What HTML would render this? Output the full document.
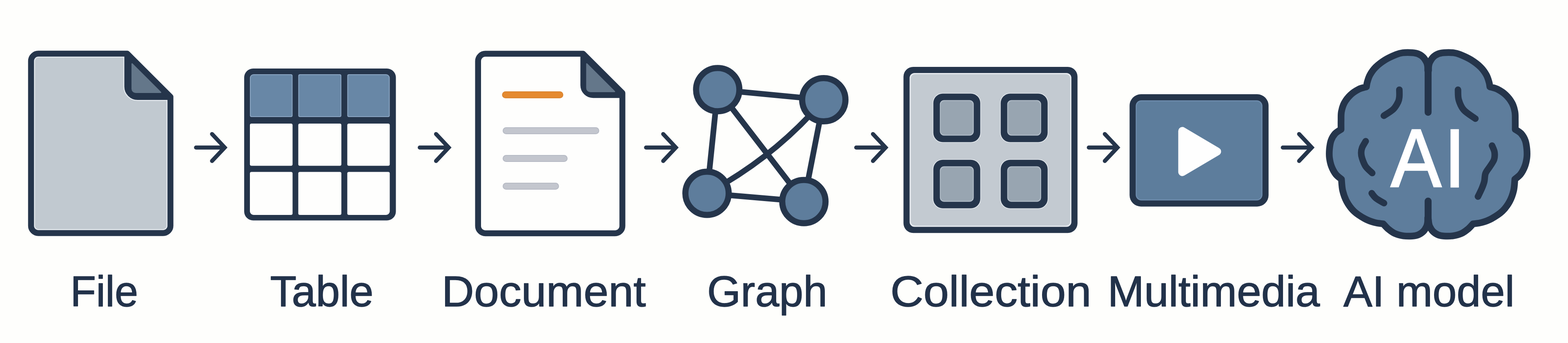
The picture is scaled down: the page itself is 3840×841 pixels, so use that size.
<!DOCTYPE html>
<html lang="en">
<head>
<meta charset="utf-8">
<title>File, Table, Document, Graph, Collection, Multimedia, AI model</title>
<style>
html,body{margin:0;padding:0;background:#FEFEFC;}
body{width:3840px;height:841px;overflow:hidden;}
svg{display:block;}
text{font-family:"Liberation Sans",sans-serif;}
</style>
</head>
<body>
<svg width="3840" height="841" viewBox="0 0 3840 841">
<rect width="3840" height="841" fill="#FEFEFC"/>
<g id="file">
<clipPath id="f1c"><path d="M94,131.6 H311.6 L417.4,237.3 V553.5 A18,18 0 0 1 399.4,571.5 H94 A18,18 0 0 1 76,553.5 V149.6 A18,18 0 0 1 94,131.6 Z"/></clipPath><path d="M94,131.6 H311.6 L417.4,237.3 V553.5 A18,18 0 0 1 399.4,571.5 H94 A18,18 0 0 1 76,553.5 V149.6 A18,18 0 0 1 94,131.6 Z" fill="#C1C9D0"/><path d="M94,131.6 H311.6 L417.4,237.3 V553.5 A18,18 0 0 1 399.4,571.5 H94 A18,18 0 0 1 76,553.5 V149.6 A18,18 0 0 1 94,131.6 Z" fill="none" stroke="#E4E9EE" stroke-width="19.5" clip-path="url(#f1c)"/><path d="M313,131.6 V212.5 A24,24 0 0 0 337,236.5 H417.4" fill="none" stroke="#E4E9EE" stroke-width="22" clip-path="url(#f1c)"/><path d="M313,131.6 L417.4,237.3 L417.4,236.5 H337 A24,24 0 0 1 313,212.5 Z" fill="#25354B"/><path d="M313,131.6 V212.5 A24,24 0 0 0 337,236.5 H417.4" fill="none" stroke="#25354B" stroke-width="17"/><path d="M94,131.6 H311.6 L417.4,237.3 V553.5 A18,18 0 0 1 399.4,571.5 H94 A18,18 0 0 1 76,553.5 V149.6 A18,18 0 0 1 94,131.6 Z" fill="none" stroke="#25354B" stroke-width="14.5" stroke-linejoin="round"/><path d="M323.5,156.5 V217.5 A9,9 0 0 0 332.5,226.5 H393.5 Z" fill="#64778A" stroke="#64778A" stroke-width="3" stroke-linejoin="round"/>
</g>
<g id="table">
<rect x="598" y="168" width="371.5" height="372.5" rx="22" fill="#25354B"/>
<path d="M621,182 H712.5 A4,4 0 0 1 716.5,186 V283 A4,4 0 0 1 712.5,287 H616 A4,4 0 0 1 612,283 V191 A9,9 0 0 1 621,182 Z" fill="#8CA6C3"/>
<path d="M621,184 H711.5 A3,3 0 0 1 714.5,187 V282 A3,3 0 0 1 711.5,285 H617 A3,3 0 0 1 614,282 V191 A7,7 0 0 1 621,184 Z" fill="#6887A6"/>
<path d="M734.5,182 H832 A4,4 0 0 1 836,186 V283 A4,4 0 0 1 832,287 H734.5 A4,4 0 0 1 730.5,283 V186 A4,4 0 0 1 734.5,182 Z" fill="#8CA6C3"/>
<path d="M735.5,184 H831 A3,3 0 0 1 834,187 V282 A3,3 0 0 1 831,285 H735.5 A3,3 0 0 1 732.5,282 V187 A3,3 0 0 1 735.5,184 Z" fill="#6887A6"/>
<path d="M854.5,182 H945.5 A9,9 0 0 1 954.5,191 V283 A4,4 0 0 1 950.5,287 H854.5 A4,4 0 0 1 850.5,283 V186 A4,4 0 0 1 854.5,182 Z" fill="#8CA6C3"/>
<path d="M855.5,184 H945.5 A7,7 0 0 1 952.5,191 V282 A3,3 0 0 1 949.5,285 H855.5 A3,3 0 0 1 852.5,282 V187 A3,3 0 0 1 855.5,184 Z" fill="#6887A6"/>
<path d="M616,303 H712.5 A4,4 0 0 1 716.5,307 V402.5 A4,4 0 0 1 712.5,406.5 H616 A4,4 0 0 1 612,402.5 V307 A4,4 0 0 1 616,303 Z" fill="#FEFEFD"/>
<path d="M734.5,303 H832 A4,4 0 0 1 836,307 V402.5 A4,4 0 0 1 832,406.5 H734.5 A4,4 0 0 1 730.5,402.5 V307 A4,4 0 0 1 734.5,303 Z" fill="#FEFEFD"/>
<path d="M854.5,303 H950.5 A4,4 0 0 1 954.5,307 V402.5 A4,4 0 0 1 950.5,406.5 H854.5 A4,4 0 0 1 850.5,402.5 V307 A4,4 0 0 1 854.5,303 Z" fill="#FEFEFD"/>
<path d="M616,421.5 H712.5 A4,4 0 0 1 716.5,425.5 V523 A4,4 0 0 1 712.5,527 H621 A9,9 0 0 1 612,518 V425.5 A4,4 0 0 1 616,421.5 Z" fill="#FEFEFD"/>
<path d="M734.5,421.5 H832 A4,4 0 0 1 836,425.5 V523 A4,4 0 0 1 832,527 H734.5 A4,4 0 0 1 730.5,523 V425.5 A4,4 0 0 1 734.5,421.5 Z" fill="#FEFEFD"/>
<path d="M854.5,421.5 H950.5 A4,4 0 0 1 954.5,425.5 V518 A9,9 0 0 1 945.5,527 H854.5 A4,4 0 0 1 850.5,523 V425.5 A4,4 0 0 1 854.5,421.5 Z" fill="#FEFEFD"/>
</g>
<g id="document">
<clipPath id="f2c"><path d="M1188.8,131.8 H1428 L1524.2,228 V554 A18,18 0 0 1 1506.2,572 H1188.8 A18,18 0 0 1 1170.8,554 V149.8 A18,18 0 0 1 1188.8,131.8 Z"/></clipPath><path d="M1188.8,131.8 H1428 L1524.2,228 V554 A18,18 0 0 1 1506.2,572 H1188.8 A18,18 0 0 1 1170.8,554 V149.8 A18,18 0 0 1 1188.8,131.8 Z" fill="#FEFEFD"/><path d="M1188.8,131.8 H1428 L1524.2,228 V554 A18,18 0 0 1 1506.2,572 H1188.8 A18,18 0 0 1 1170.8,554 V149.8 A18,18 0 0 1 1188.8,131.8 Z" fill="none" stroke="#FFFFFF" stroke-width="19.5" clip-path="url(#f2c)"/><path d="M1428.6,131.8 V209 A24,24 0 0 0 1452.6,233 H1524.2" fill="none" stroke="#FFFFFF" stroke-width="19.5" clip-path="url(#f2c)"/><path d="M1428.6,131.8 L1524.2,228 L1524.2,233 H1452.6 A24,24 0 0 1 1428.6,209 Z" fill="#25354B"/><path d="M1428.6,131.8 V209 A24,24 0 0 0 1452.6,233 H1524.2" fill="none" stroke="#25354B" stroke-width="14.5"/><path d="M1188.8,131.8 H1428 L1524.2,228 V554 A18,18 0 0 1 1506.2,572 H1188.8 A18,18 0 0 1 1170.8,554 V149.8 A18,18 0 0 1 1188.8,131.8 Z" fill="none" stroke="#25354B" stroke-width="14.5" stroke-linejoin="round"/><path d="M1437,156.5 V215.5 A9,9 0 0 0 1446,224.5 H1505 Z" fill="#64778A" stroke="#64778A" stroke-width="3" stroke-linejoin="round"/>
<path d="M1238,232.5 H1371" stroke="#D98430" stroke-width="17" stroke-linecap="round" fill="none"/>
<path d="M1238,232.5 H1371" stroke="#E58A30" stroke-width="13" stroke-linecap="round" fill="none"/>
<path d="M1239.5,320.5 H1459 M1239.5,388.5 H1381.5 M1239.5,456.5 H1360.5" stroke="#B6BAC4" stroke-width="17" stroke-linecap="round" fill="none"/>
<path d="M1239.5,320.5 H1459 M1239.5,388.5 H1381.5 M1239.5,456.5 H1360.5" stroke="#C3C6CE" stroke-width="13" stroke-linecap="round" fill="none"/>
</g>
<g id="graph">
<path d="M1757.7,219.8 L2017.5,244.6 M1757.7,219.8 L1731.5,474 M1757.7,219.8 L1968.7,494.3 M2017.5,244.6 L1968.7,494.3 M1731.5,474 L1968.7,494.3 M2017.5,244.6 Q1898,385 1731.5,474" stroke="#25354B" stroke-width="14" fill="none"/>
<circle cx="1757.7" cy="219.8" r="53" fill="#5E7D9C" stroke="#25354B" stroke-width="15"/>
<circle cx="2017.5" cy="244.6" r="53" fill="#5E7D9C" stroke="#25354B" stroke-width="15"/>
<circle cx="1731.5" cy="474" r="53" fill="#5E7D9C" stroke="#25354B" stroke-width="15"/>
<circle cx="1968.7" cy="494.3" r="53" fill="#5E7D9C" stroke="#25354B" stroke-width="15"/>
</g>
<g id="collection">
<rect x="2212.6" y="164" width="426.2" height="407.3" rx="24" fill="#25354B"/>
<rect x="2227.6" y="179" width="396.2" height="377.3" rx="12" fill="#E6EAEF"/>
<rect x="2230.6" y="182" width="390.2" height="371.3" rx="10" fill="#C3CAD1"/>
<rect x="2284.2" y="228" width="118" height="122" rx="24" fill="#E4E9EE"/>
<rect x="2285.7" y="229.5" width="115" height="119" rx="23" fill="#25354B"/>
<rect x="2301.7" y="245.5" width="83" height="87" rx="10" fill="#B4BFCA"/>
<rect x="2303.7" y="247.5" width="79" height="83" rx="9" fill="#98A5B1"/>
<rect x="2284.2" y="390.3" width="118" height="122" rx="24" fill="#E4E9EE"/>
<rect x="2285.7" y="391.8" width="115" height="119" rx="23" fill="#25354B"/>
<rect x="2301.7" y="407.8" width="83" height="87" rx="10" fill="#B4BFCA"/>
<rect x="2303.7" y="409.8" width="79" height="83" rx="9" fill="#98A5B1"/>
<rect x="2449.2" y="228" width="118" height="122" rx="24" fill="#E4E9EE"/>
<rect x="2450.7" y="229.5" width="115" height="119" rx="23" fill="#25354B"/>
<rect x="2466.7" y="245.5" width="83" height="87" rx="10" fill="#B4BFCA"/>
<rect x="2468.7" y="247.5" width="79" height="83" rx="9" fill="#98A5B1"/>
<rect x="2449.2" y="390.3" width="118" height="122" rx="24" fill="#E4E9EE"/>
<rect x="2450.7" y="391.8" width="115" height="119" rx="23" fill="#25354B"/>
<rect x="2466.7" y="407.8" width="83" height="87" rx="10" fill="#B4BFCA"/>
<rect x="2468.7" y="409.8" width="79" height="83" rx="9" fill="#98A5B1"/>
</g>
<g id="multimedia">
<rect x="2766.3" y="231" width="340.4" height="275.5" rx="28" fill="#25354B"/>
<rect x="2781.3" y="246" width="310.4" height="245.5" rx="14" fill="#6E8DAE"/>
<rect x="2783.8" y="248.5" width="305.4" height="240.5" rx="12" fill="#5D7D9C"/>
<path d="M2895.5,321.3 L2980.5,371.5 L2895.5,421.7 Z" fill="#FEFEFE" stroke="#FEFEFE" stroke-width="20" stroke-linejoin="round"/>
</g>
<g id="brain">
<path d="M3496.5055,172.9955 C3496.5,171.2 3496.7,165.5 3496.2,162.1 C3495.7,158.7 3495.4,156.2 3493.6,152.6 C3491.8,149 3488.9,143.7 3485.5,140.3 C3482.1,136.9 3477.6,134 3473.1,132.1 C3468.7,130.3 3465,129.7 3458.7,129.2 C3452.4,128.8 3441.9,128.7 3435.3,129.4 C3428.8,130.2 3426.6,130.8 3419.4,133.7 C3412.3,136.6 3401,141.4 3392.6,146.6 C3384.1,151.9 3375,158.8 3368.7,165 C3362.4,171.3 3358.2,177.8 3354.8,183.9 C3351.4,190.1 3349.7,197 3348.3,201.8 C3346.9,206.6 3346.7,211 3346.3,212.8 C3343.3,213.8 3334.4,215.5 3327.9,218.7 C3321.5,222 3313.5,226.9 3307.6,232.5 C3301.6,238.1 3295.9,245.5 3292.1,252.4 C3288.4,259.2 3286.5,266.4 3285.2,273.4 C3283.8,280.4 3284.3,287 3284.2,294.3 C3284,301.6 3284.2,313.4 3284.2,317.2 C3281.8,318.9 3273.7,323.1 3269.7,327.6 C3265.6,332.2 3262,338.2 3259.7,344.5 C3257.4,350.9 3256.5,358.6 3255.8,365.6 C3255.2,372.7 3255,379.8 3255.8,386.8 C3256.7,393.9 3258.2,401.2 3260.8,408 C3263.4,414.8 3267.3,422.1 3271.4,427.4 C3275.4,432.6 3282.9,437.5 3285.2,439.5 C3285.7,444.2 3286,458.3 3288.2,467.4 C3290.3,476.5 3293.5,485.8 3298.1,494.2 C3302.7,502.7 3308.7,511.1 3316,518.1 C3323.3,525 3333.6,531.4 3341.9,536 C3350.1,540.5 3358.1,543.3 3365.7,545.4 C3373.4,547.6 3384,548.3 3387.6,548.9 C3389.6,551 3394.9,557.5 3399.5,561.3 C3404.2,565.2 3409.2,569.5 3415.5,572.3 C3421.8,575.1 3430.1,577.2 3437.3,578.3 C3444.5,579.3 3452.7,579.1 3458.7,578.8 C3464.7,578.4 3468.7,577.7 3473.1,575.9 C3477.6,574 3482.1,571.1 3485.5,567.7 C3488.9,564.3 3491.8,559.2 3493.6,555.4 C3495.4,551.6 3495.7,548.5 3496.2,544.9 C3496.7,541.4 3496.5,535.8 3496.5,534 C3498.5,535.8 3498.3,541.4 3498.8,544.9 C3499.3,548.5 3499.6,551.6 3501.4,555.4 C3503.2,559.2 3506.1,564.3 3509.5,567.7 C3512.9,571.1 3517.4,574 3521.9,575.9 C3526.3,577.7 3530.3,578.4 3536.3,578.8 C3542.3,579.1 3550.5,579.3 3557.7,578.3 C3564.9,577.2 3573.2,575.1 3579.5,572.3 C3585.8,569.5 3590.8,565.2 3595.5,561.3 C3600.1,557.5 3605.4,551 3607.4,548.9 C3611,548.3 3621.6,547.6 3629.3,545.4 C3636.9,543.3 3644.9,540.5 3653.1,536 C3661.4,531.4 3671.7,525 3679,518.1 C3686.3,511.1 3692.3,502.7 3696.9,494.2 C3701.5,485.8 3704.7,476.5 3706.8,467.4 C3709,458.3 3709.3,444.2 3709.8,439.5 C3712.1,437.5 3719.6,432.6 3723.6,427.4 C3727.7,422.1 3731.6,414.8 3734.2,408 C3736.8,401.2 3738.3,393.9 3739.2,386.8 C3740,379.8 3739.8,372.7 3739.2,365.6 C3738.5,358.6 3737.6,350.9 3735.3,344.5 C3733,338.2 3729.4,332.2 3725.3,327.6 C3721.3,323.1 3713.2,318.9 3710.8,317.2 C3710.8,313.4 3711,301.6 3710.8,294.3 C3710.7,287 3711.2,280.4 3709.8,273.4 C3708.5,266.4 3706.6,259.2 3702.9,252.4 C3699.1,245.5 3693.4,238.1 3687.4,232.5 C3681.5,226.9 3673.5,222 3667.1,218.7 C3660.6,215.5 3651.7,213.8 3648.7,212.8 C3648.3,211 3648.1,206.6 3646.7,201.8 C3645.3,197 3643.6,190.1 3640.2,183.9 C3636.8,177.8 3632.6,171.3 3626.3,165 C3620,158.8 3610.9,151.9 3602.4,146.6 C3594,141.4 3582.7,136.6 3575.6,133.7 C3568.4,130.8 3566.2,130.2 3559.7,129.4 C3553.1,128.7 3542.6,128.8 3536.3,129.2 C3530,129.7 3526.3,130.3 3521.9,132.1 C3517.4,134 3512.9,136.9 3509.5,140.3 C3506.1,143.7 3503.2,149 3501.4,152.6 C3499.6,156.2 3499.3,158.7 3498.8,162.1 C3498.3,165.5 3498.5,171.2 3498.5,173 Z" fill="#5E7D9C" stroke="#25354B" stroke-width="16.5" stroke-linejoin="round"/>
<path d="M3497.4,160 V275.5 M3497.4,493 V548" fill="none" stroke="#25354B" stroke-width="17" stroke-linecap="round"/>
<path d=" M3427,220 C3427,222.8 3427.5,232 3427,237 C3426.5,242 3426.5,244.8 3424,250 C3421.5,255.2 3417.8,262.4 3412,268 C3406.2,273.6 3392.8,281.2 3389,283.8 M3344.6,346.2 C3343.1,348.9 3337.5,357.4 3335.7,362.2 C3333.8,367 3333.5,370.7 3333.5,375 C3333.5,379.3 3333.8,382.4 3335.7,388 C3337.5,393.6 3340.4,402.2 3344.6,408.3 C3348.8,414.4 3357.9,421.6 3360.6,424.3 M3359.3,473.8 C3361.1,475.9 3365,482.2 3370,486.2 C3375,490.2 3386.2,496 3389.4,498 M3570.6,220 C3570.9,224.1 3570,236.5 3572.4,244.8 C3574.8,253.1 3578,261.9 3584.8,269.6 C3591.6,277.3 3608.5,287.3 3613.2,290.9 M3654,357 C3655,359.7 3659.2,367.3 3660,373 C3660.8,378.7 3660.8,385.2 3659,391 C3657.2,396.8 3652.5,402.3 3649,408 C3645.5,413.7 3640.3,418.8 3638,425 C3635.7,431.2 3636.5,438.8 3635,445 C3633.5,451.2 3631.6,455.8 3629,462 C3626.4,468.2 3621.1,478.7 3619.5,482" fill="none" stroke="#25354B" stroke-width="16" stroke-linecap="round" stroke-linejoin="round"/>
<text transform="translate(3406,457.5) scale(0.92,1)" x="0 142" y="0" font-size="202" fill="#FFFFFF" stroke="#FFFFFF" stroke-width="3.4">AI</text>
</g>
<g id="arrows">
<path d="M480.1,361.7 H548.3 M519.3,328.7 L550.3,361.7 L519.3,394.7" fill="none" stroke="#25354B" stroke-width="10" stroke-linecap="round" stroke-linejoin="miter"/>
<path d="M1028,361.7 H1096.9 M1067.9,328.7 L1098.9,361.7 L1067.9,394.7" fill="none" stroke="#25354B" stroke-width="10" stroke-linecap="round" stroke-linejoin="miter"/>
<path d="M1582.2,361.7 H1653.2 M1624.2,328.7 L1655.2,361.7 L1624.2,394.7" fill="none" stroke="#25354B" stroke-width="10" stroke-linecap="round" stroke-linejoin="miter"/>
<path d="M2096.9,361.7 H2166.9 M2137.9,328.7 L2168.9,361.7 L2137.9,394.7" fill="none" stroke="#25354B" stroke-width="10" stroke-linecap="round" stroke-linejoin="miter"/>
<path d="M2666.5,361.7 H2734.7 M2705.7,328.7 L2736.7,361.7 L2705.7,394.7" fill="none" stroke="#25354B" stroke-width="10" stroke-linecap="round" stroke-linejoin="miter"/>
<path d="M3141.6,361.7 H3210.5 M3181.5,328.7 L3212.5,361.7 L3181.5,394.7" fill="none" stroke="#25354B" stroke-width="10" stroke-linecap="round" stroke-linejoin="miter"/>
</g>
<g id="labels" font-size="105.6" fill="#22324A" stroke="#22324A" stroke-width="1.5" stroke-linejoin="round">
<text x="172.3" y="751" textLength="165.89" lengthAdjust="spacingAndGlyphs">File</text>
<text x="661.52" y="751" textLength="253.22" lengthAdjust="spacingAndGlyphs">Table</text>
<text x="1081.83" y="751" textLength="499.79" lengthAdjust="spacingAndGlyphs">Document</text>
<text x="1731.79" y="751" textLength="294.23" lengthAdjust="spacingAndGlyphs">Graph</text>
<text x="2180.59" y="751" textLength="492.01" lengthAdjust="spacingAndGlyphs">Collection</text>
<text x="2712.45" y="751" textLength="519.9" lengthAdjust="spacingAndGlyphs">Multimedia</text>
<text x="3289.99" y="751" textLength="419.12" lengthAdjust="spacingAndGlyphs">AI model</text>
</g>
</svg>
</body>
</html>
